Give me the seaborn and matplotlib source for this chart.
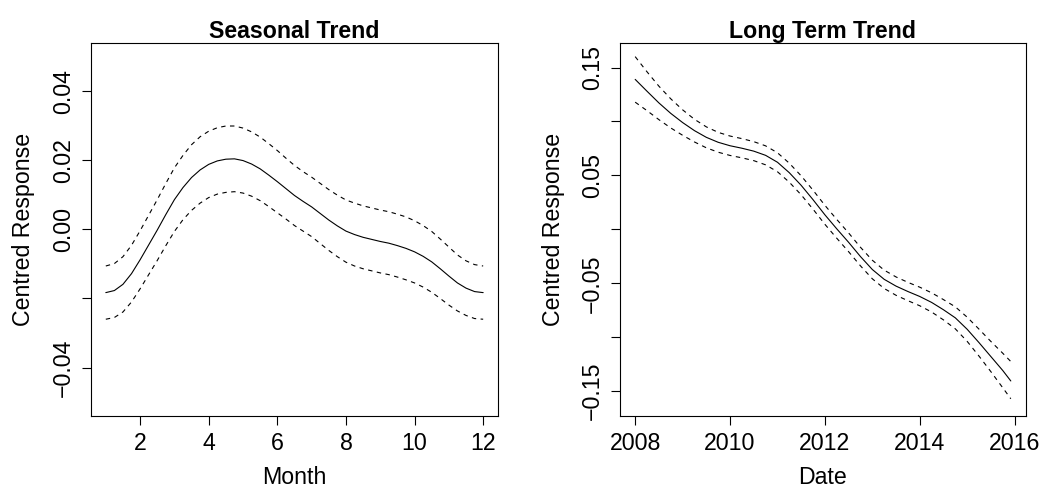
import matplotlib
matplotlib.use("Agg")
import matplotlib.pyplot as plt
import seaborn as sns

# --- data (smooth fit and its +/- 2 se band) ---
months = [1, 1.25, 1.5, 1.75, 2, 2.25, 2.5, 2.75, 3, 3.25, 3.5, 3.75, 4, 4.25,
          4.5, 4.75, 5, 5.25, 5.5, 5.75, 6, 6.25, 6.5, 6.75, 7, 7.25, 7.5, 7.75,
          8, 8.25, 8.5, 8.75, 9, 9.25, 9.5, 9.75, 10, 10.25, 10.5, 10.75, 11,
          11.25, 11.5, 11.75, 12]
season_fit = [-0.0183, -0.0177, -0.0159, -0.0128, -0.0088, -0.0045, -0.0002,
              0.0043, 0.0086, 0.0121, 0.0150, 0.0172, 0.0188, 0.0198, 0.0203,
              0.0204, 0.0199, 0.0189, 0.0175, 0.0157, 0.0138, 0.0118, 0.0098,
              0.0081, 0.0065, 0.0046, 0.0027, 0.0010, -0.0005, -0.0015, -0.0023,
              -0.0029, -0.0035, -0.0040, -0.0047, -0.0055, -0.0065, -0.0078,
              -0.0094, -0.0114, -0.0135, -0.0155, -0.0170, -0.0180, -0.0183]
season_upper = [-0.0106, -0.0099, -0.0079, -0.0046, -0.0004, 0.0041, 0.0086,
                0.0133, 0.0178, 0.0214, 0.0245, 0.0268, 0.0284, 0.0294, 0.0299,
                0.0299, 0.0293, 0.0282, 0.0267, 0.0248, 0.0228, 0.0206, 0.0185,
                0.0167, 0.0151, 0.0133, 0.0115, 0.0099, 0.0085, 0.0076, 0.0068,
                0.0062, 0.0056, 0.0051, 0.0044, 0.0036, 0.0025, 0.0011, -0.0006,
                -0.0028, -0.0051, -0.0074, -0.0091, -0.0102, -0.0106]
season_lower = [-0.0260, -0.0255, -0.0239, -0.0210, -0.0172, -0.0131, -0.0090,
                -0.0047, -0.0006, 0.0028, 0.0055, 0.0076, 0.0092, 0.0102, 0.0107,
                0.0109, 0.0105, 0.0096, 0.0083, 0.0066, 0.0048, 0.0030, 0.0011,
                -0.0005, -0.0021, -0.0041, -0.0061, -0.0079, -0.0095, -0.0106,
                -0.0114, -0.0120, -0.0126, -0.0131, -0.0138, -0.0146, -0.0155,
                -0.0167, -0.0182, -0.0200, -0.0219, -0.0236, -0.0249, -0.0258,
                -0.0260]

years = [2008, 2008.25, 2008.5, 2008.75, 2009, 2009.25, 2009.5, 2009.75, 2010,
         2010.25, 2010.5, 2010.75, 2011, 2011.25, 2011.5, 2011.75, 2012, 2012.25,
         2012.5, 2012.75, 2013, 2013.25, 2013.5, 2013.75, 2014, 2014.25, 2014.5,
         2014.75, 2015, 2015.25, 2015.5, 2015.75, 2015.92]
trend_fit = [0.1390, 0.1280, 0.1172, 0.1075, 0.0990, 0.0915, 0.0853, 0.0807,
             0.0775, 0.0752, 0.0725, 0.0686, 0.0622, 0.0525, 0.0408, 0.0275,
             0.0135, 0.0005, -0.0120, -0.0252, -0.0372, -0.0463, -0.0526,
             -0.0576, -0.0622, -0.0677, -0.0745, -0.0820, -0.0926, -0.1050,
             -0.1179, -0.1308, -0.1405]
trend_upper = [0.1601, 0.1460, 0.1327, 0.1210, 0.1108, 0.1020, 0.0950, 0.0899,
               0.0865, 0.0841, 0.0813, 0.0774, 0.0710, 0.0613, 0.0496, 0.0363,
               0.0223, 0.0092, -0.0033, -0.0166, -0.0286, -0.0378, -0.0441,
               -0.0491, -0.0536, -0.0588, -0.0651, -0.0718, -0.0814, -0.0925,
               -0.1039, -0.1148, -0.1225]
trend_lower = [0.1179, 0.1100, 0.1017, 0.0940, 0.0872, 0.0810, 0.0756, 0.0715,
               0.0685, 0.0663, 0.0637, 0.0598, 0.0534, 0.0437, 0.0320, 0.0187,
               0.0047, -0.0082, -0.0207, -0.0338, -0.0458, -0.0548, -0.0611,
               -0.0661, -0.0708, -0.0766, -0.0839, -0.0922, -0.1038, -0.1175,
               -0.1319, -0.1468, -0.1570]

month_ticks = [2, 4, 6, 8, 10, 12]
month_labels = ["2", "4", "6", "8", "10", "12"]
season_yticks = [-0.04, -0.02, 0.00, 0.02, 0.04]
season_ylabels = ["\u22120.04", "", "0.00", "0.02", "0.04"]
year_ticks = [2008, 2010, 2012, 2014, 2016]
year_labels = ["2008", "2010", "2012", "2014", "2016"]
trend_yticks = [-0.15, -0.10, -0.05, 0.00, 0.05, 0.10, 0.15]
trend_ylabels = ["\u22120.15", "", "\u22120.05", "", "0.05", "", "0.15"]

sns.set_style("ticks")
plt.rcParams['font.family'] = ['Liberation Sans', 'DejaVu Sans']
plt.rcParams.update({'text.color': 'black', 'axes.labelcolor': 'black',
                     'xtick.color': 'black', 'ytick.color': 'black',
                     'axes.edgecolor': 'black'})
FS = 16.7

fig = plt.figure(figsize=(10.45, 4.88), dpi=100)
ax1 = fig.add_axes([0.0868, 0.1475, 0.390, 0.765])
ax2 = fig.add_axes([0.5933, 0.1475, 0.3885, 0.765])

panels = [
    (ax1, months, season_fit, season_upper, season_lower, "Seasonal Trend", "Month",
     (0.56, 12.44), (-0.054, 0.054), month_ticks, month_labels, season_yticks, season_ylabels),
    (ax2, years, trend_fit, trend_upper, trend_lower, "Long Term Trend", "Date",
     (2007.68, 2016.24), (-0.173, 0.173), year_ticks, year_labels, trend_yticks, trend_ylabels),
]

for (ax, x, fit, up, lo, title, xlabel, xlim, ylim,
     xt, xtl, yt, ytl) in panels:
    # fitted curve (solid) and confidence band (dashed)
    sns.lineplot(x=x, y=fit, ax=ax, color='black', linewidth=0.8,
                 sort=False, estimator=None)
    for band in (up, lo):
        sns.lineplot(x=x, y=band, ax=ax, color='black', linewidth=0.8,
                     sort=False, estimator=None, linestyle=(0, (4, 4)))
    ax.set_xlim(*xlim)
    ax.set_ylim(*ylim)
    ax.set_xticks(xt)
    ax.set_xticklabels(xtl, fontsize=FS)
    ax.set_yticks(yt)
    ax.set_yticklabels(ytl, fontsize=FS, rotation=90, va='center')
    ax.tick_params(axis='both', length=6.8, width=0.8, color='black',
                   labelcolor='black', pad=4.5)
    for sp in ax.spines.values():
        sp.set_visible(True)
        sp.set_color('black')
        sp.set_linewidth(0.8)

    ax.set_title(title, fontsize=FS, fontweight='bold', color='black')
    ax.title.set_position((0.5, 1.047))
    ax.title.set_va('center')
    ax.set_xlabel(xlabel, fontsize=FS)
    ax.xaxis.set_label_coords(0.5, -0.166)
    ax.xaxis.label.set_va('center')
    ax.set_ylabel("Centred Response", fontsize=FS)
    ax.yaxis.set_label_coords(-0.165, 0.5)
    ax.yaxis.label.set_va('center')
    ax.grid(False)

fig.savefig("out.png", dpi=100)
